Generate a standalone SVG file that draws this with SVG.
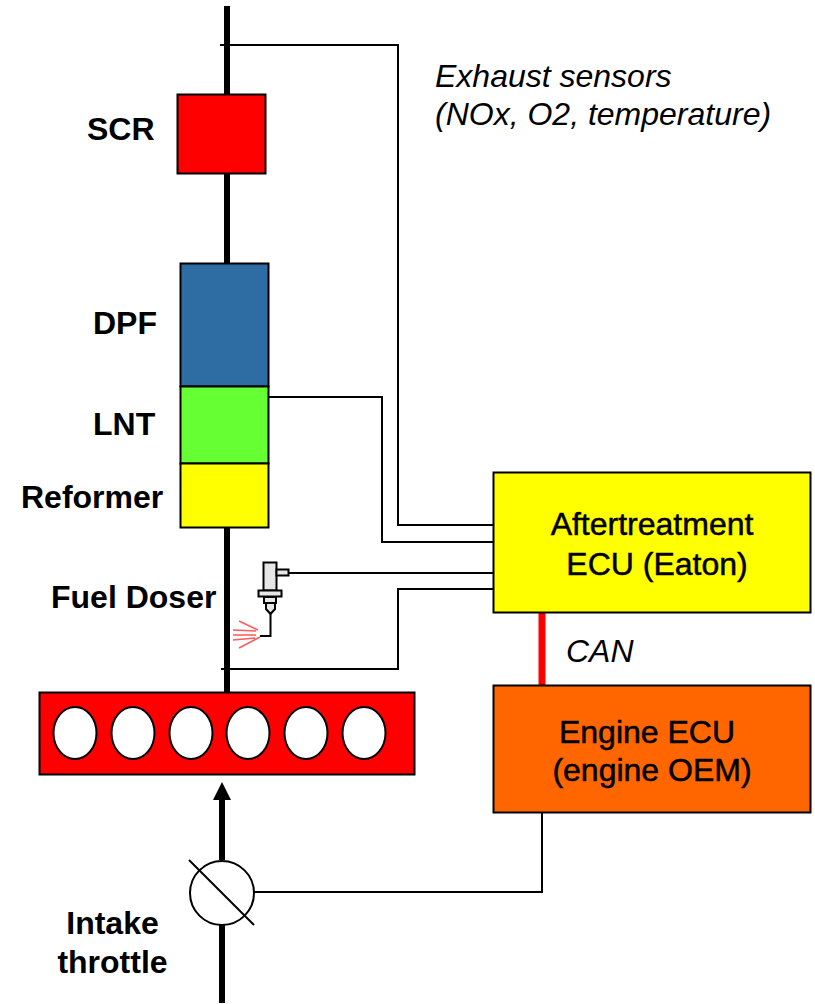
<svg xmlns="http://www.w3.org/2000/svg" width="815" height="1004" viewBox="0 0 815 1004">
<defs><style>
text{font-family:"Liberation Sans",Arial,sans-serif;font-size:32px;fill:#000}
.b{font-weight:bold}
.i{font-style:italic}
.s{stroke:#000;stroke-width:0.5}
.box{stroke:#000;stroke-width:2}
.pipe{stroke:#000;stroke-width:6;fill:none}
.wire{stroke:#000;stroke-width:2;fill:none}
.cyl{fill:#fff;stroke:#000;stroke-width:2}
.inj{fill:#e6e6e6;stroke:#000;stroke-width:2}
.spray{stroke:#ff5a5a;stroke-width:1.5;fill:none}
</style></defs>
<rect width="815" height="1004" fill="#fff"/>
<g id="connectors">
<path class="pipe" d="M227 6V692"/>
<path class="pipe" d="M222 800V860M222 925V1003"/>
<path d="M222 782L231 800H213Z" fill="#000"/>
<path class="wire" d="M220 45H398V525H494"/>
<path class="wire" d="M269 397H382V542H494"/>
<path class="wire" d="M289 573H494"/>
<path class="wire" d="M221 669H398V589H494"/>
<path class="wire" d="M542 812V892H254"/>
<path d="M542 613V685" stroke="#f00" stroke-width="7" fill="none"/>
</g>
<g id="scr"><rect class="box" x="177.500" y="94.500" width="88" height="79" fill="#f00"/><text class="b" x="87" y="140">SCR</text></g>
<g id="dpf"><rect class="box" x="180.500" y="263.500" width="88" height="123" fill="#2e6da4"/><text class="b" x="93" y="334">DPF</text></g>
<g id="lnt"><rect class="box" x="180.500" y="386.500" width="88" height="77" fill="#66ff33"/><text class="b" x="93" y="435">LNT</text></g>
<g id="reformer"><rect class="box" x="180.500" y="463.500" width="88" height="64" fill="#ff0"/><text class="b" x="21" y="508">Reformer</text></g>
<g id="fuel-doser">
<text class="b" x="51" y="608">Fuel Doser</text>
<rect class="inj" x="263.500" y="562.500" width="13" height="28"/>
<rect class="inj" x="276.500" y="569.500" width="12" height="6"/>
<rect class="inj" x="258.500" y="590.500" width="23" height="6"/>
<rect class="inj" x="264" y="597" width="12" height="6"/>
<path class="inj" d="M266 603H275V609L270.500 614L266 609Z"/>
<path class="wire" d="M270.500 612V636H260"/>
<path class="spray" d="M239 621L258 630M233 630L256 631M233 635L256 635M233 640L255 638M239 648L260 637"/>
</g>
<g id="engine"><rect class="box" x="39.500" y="692.500" width="375" height="82" fill="#f00"/>
<ellipse class="cyl" cx="75" cy="733" rx="21.500" ry="26"/>
<ellipse class="cyl" cx="133" cy="733" rx="21.500" ry="26"/>
<ellipse class="cyl" cx="191" cy="733" rx="21.500" ry="26"/>
<ellipse class="cyl" cx="248" cy="733" rx="21.500" ry="26"/>
<ellipse class="cyl" cx="306" cy="733" rx="21.500" ry="26"/>
<ellipse class="cyl" cx="364" cy="733" rx="21.500" ry="26"/></g>
<g id="intake-throttle"><circle cx="222" cy="893" r="32" fill="#fff" stroke="#000" stroke-width="2"/>
<path d="M189 860L254 925" stroke="#000" stroke-width="2"/>
<text class="b" text-anchor="middle" x="112.500" y="934">Intake</text><text class="b" text-anchor="middle" x="112.500" y="973">throttle</text></g>
<g id="aftertreatment-ecu"><rect class="box" x="493.500" y="472.500" width="317" height="140" fill="#ff0"/><text class="s" text-anchor="middle" x="652" y="535">Aftertreatment</text><text class="s" text-anchor="middle" x="657" y="575">ECU (Eaton)</text></g>
<g id="engine-ecu"><rect class="box" x="493.500" y="685.500" width="317" height="127" fill="#f60"/><text class="s" text-anchor="middle" x="647" y="743">Engine ECU</text><text class="s" text-anchor="middle" x="652" y="781">(engine OEM)</text></g>
<text class="i" x="435" y="87">Exhaust sensors</text>
<text class="i" x="435" y="125">(NOx, O2, temperature)</text>
<text class="i" x="566" y="662">CAN</text>
</svg>
